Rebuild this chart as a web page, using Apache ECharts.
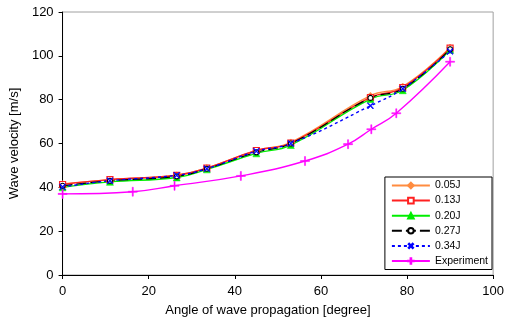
<!DOCTYPE html>
<html>
<head>
<meta charset="utf-8">
<script src="https://cdn.jsdelivr.net/npm/echarts@6/dist/echarts.min.js"></script>
<style>
  html, body { margin: 0; padding: 0; background: #fff; }
  #chart { width: 507px; height: 322px; }
</style>
</head>
<body>
<div id="chart"></div>
<script>
// angles (degree)
const simAngles = [0, 11, 26.5, 33.5, 45, 53, 71.5, 79, 90];
const expAngles = [0, 16.3, 26, 41.4, 56.3, 66.3, 71.7, 77.5, 90];

// wave velocity [m/s]
const v005 = [41.5, 43.5, 45.5, 48.8, 56.8, 60.5, 81.8, 86.0, 103.8];
const v013 = [41.3, 43.5, 45.5, 48.8, 56.8, 60.2, 81.0, 85.5, 103.5];
const v020 = [40.0, 42.5, 44.5, 48.2, 55.5, 59.3, 80.3, 84.3, 102.8];
const v027 = [40.7, 43.0, 45.0, 48.5, 56.0, 60.0, 80.8, 85.0, 103.0];
const v034 = [40.2, 43.0, 45.5, 48.5, 56.5, 60.0, 77.2, 85.0, 102.0];
const vExp = [37.0, 38.0, 40.7, 45.2, 52.0, 59.7, 66.5, 73.8, 97.3];

const xTicks = [0, 20, 40, 60, 80, 100];
const yTicks = [0, 20, 40, 60, 80, 100, 120];

const FONT = '"Liberation Sans", Arial, sans-serif';
// thin cross, rotated 45 deg for the x marker
const plusPath = 'path://M4.4,0H5.6V4.4H10V5.6H5.6V10H4.4V5.6H0V4.4H4.4Z';

function pairs(xs, ys) {
  return xs.map((x, i) => [x, ys[i]]);
}

function lineSeries(name, xs, ys, color, symbol, size, opts) {
  return Object.assign({
    name: name,
    type: 'line',
    data: pairs(xs, ys),
    smooth: 0.45,
    symbol: symbol,
    symbolSize: size,
    lineStyle: { color: color, width: 1.4 },
    itemStyle: { color: color, borderColor: color, borderWidth: 0.5 },
    emphasis: { disabled: true }
  }, opts || {});
}

const chart = echarts.init(document.getElementById('chart'));

chart.setOption({
  animation: false,
  backgroundColor: '#fff',
  textStyle: { fontFamily: FONT },
  grid: {
    left: 60, right: 12, top: 12, bottom: 45,
    show: true, borderColor: '#a0a0a0', borderWidth: 1
  },
  xAxis: {
    type: 'value',
    min: xTicks[0],
    max: xTicks[xTicks.length - 1],
    interval: 20,
    name: 'Angle of wave propagation [degree]',
    nameLocation: 'middle',
    nameGap: 29,
    nameTextStyle: { fontSize: 13, color: '#000', fontFamily: FONT, padding: [0, 20, 0, 0] },
    axisLine: { lineStyle: { color: '#000', width: 1 } },
    axisTick: { show: true, length: 4, inside: false, lineStyle: { color: '#000' } },
    axisLabel: { fontSize: 13, color: '#000', margin: 10, fontFamily: FONT },
    splitLine: { show: false }
  },
  yAxis: {
    type: 'value',
    min: yTicks[0],
    max: yTicks[yTicks.length - 1],
    interval: 20,
    name: 'Wave velocity [m/s]',
    nameLocation: 'middle',
    nameGap: 34,
    nameTextStyle: { fontSize: 13, color: '#000', fontFamily: FONT },
    axisLine: { lineStyle: { color: '#000', width: 1 } },
    axisTick: { show: true, length: 4, lineStyle: { color: '#000' } },
    axisLabel: { fontSize: 13, color: '#000', margin: 9, fontFamily: FONT },
    splitLine: { show: false }
  },
  legend: {
    orient: 'vertical',
    right: 15,
    top: 177,
    padding: [3, 4, 3, 6],
    itemWidth: 38,
    itemHeight: 7,
    itemGap: 4.1,
    backgroundColor: '#fff',
    borderColor: '#000',
    borderWidth: 1,
    borderRadius: 0,
    textStyle: { fontSize: 10.5, color: '#000', fontFamily: FONT },
    data: ['0.05J', '0.13J', '0.20J', '0.27J', '0.34J', 'Experiment']
  },
  series: [
    lineSeries('0.05J', simAngles, v005, '#ff8c40', 'diamond', 7),
    lineSeries('0.13J', simAngles, v013, '#ff2020', 'rect', 6, {
      itemStyle: { color: '#fff', borderColor: '#ff2020', borderWidth: 1.2 }
    }),
    lineSeries('0.20J', simAngles, v020, '#00ee00', 'triangle', 7),
    lineSeries('0.27J', simAngles, v027, '#000000', 'circle', 5, {
      lineStyle: { color: '#000', width: 1.2, type: [10, 4] },
      itemStyle: { color: '#fff', borderColor: '#000', borderWidth: 1.1 }
    }),
    lineSeries('0.34J', simAngles, v034, '#0000ff', plusPath, 8, {
      symbolRotate: 45,
      lineStyle: { color: '#0000ff', width: 1.4, type: [3, 3] }
    }),
    lineSeries('Experiment', expAngles, vExp, '#ff00ff', plusPath, 9)
  ]
});
</script>
</body>
</html>
